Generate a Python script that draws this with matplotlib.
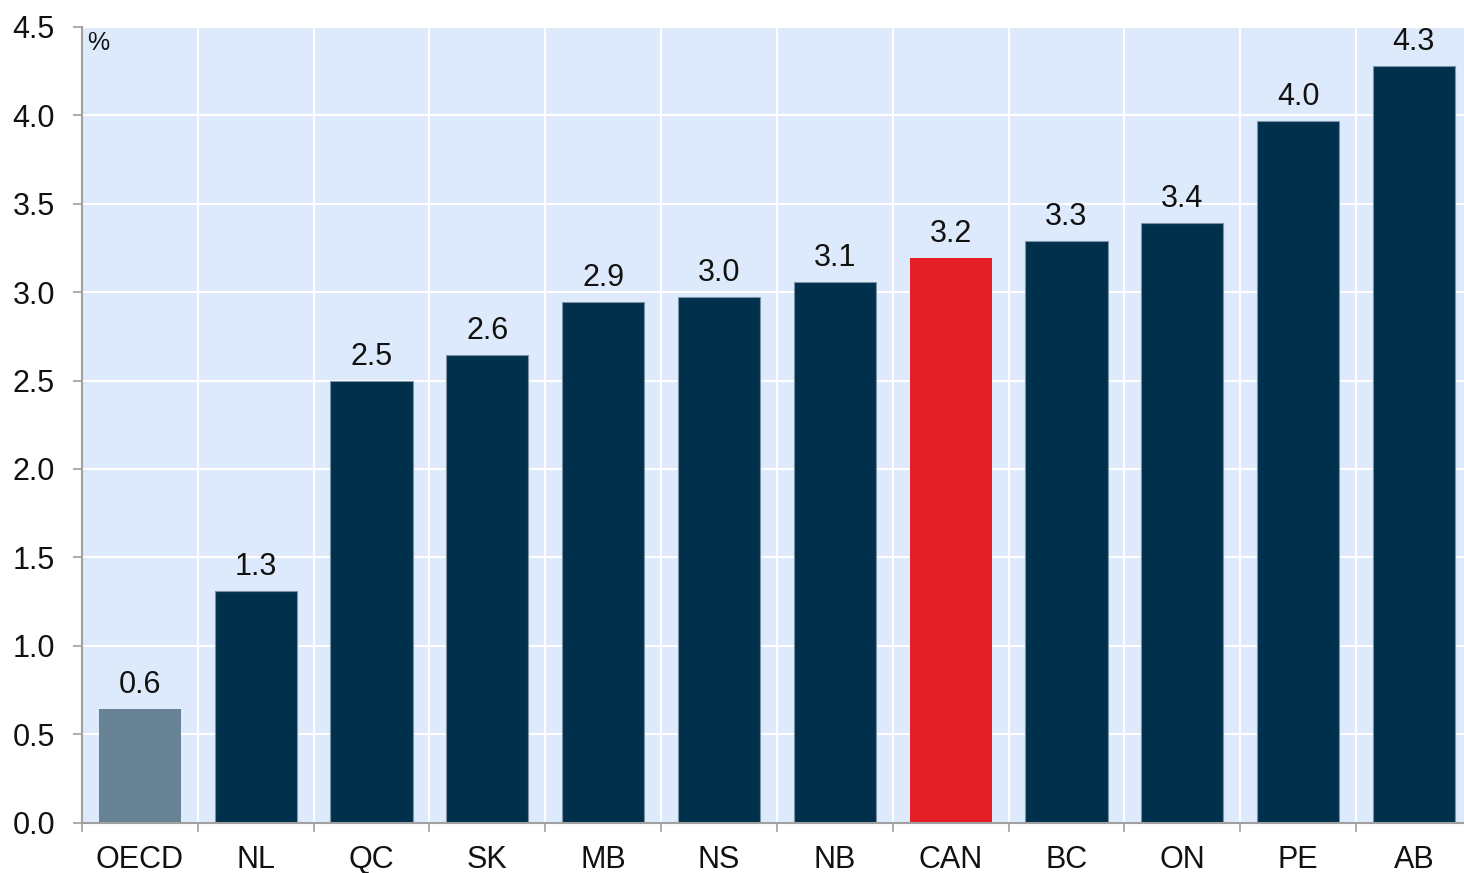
import matplotlib
matplotlib.use("Agg")
import matplotlib.pyplot as plt
import numpy as np

categories = ["OECD", "NL", "QC", "SK", "MB", "NS", "NB", "CAN", "BC", "ON", "PE", "AB"]
values = [0.642, 1.309, 2.497, 2.644, 2.944, 2.972, 3.057, 3.195, 3.289, 3.391, 3.968, 4.281]
yticks = [0.0, 0.5, 1.0, 1.5, 2.0, 2.5, 3.0, 3.5, 4.0, 4.5]

NAVY = "#00304C"
GREY = "#678395"
RED = "#E31E24"
BG = "#DDEAFB"
AXC = "#A0A0A0"

colors = [GREY] + [NAVY] * 6 + [RED] + [NAVY] * 4
edges = ["none"] + ["#7C93A8"] * 6 + ["none"] + ["#7C93A8"] * 4

plt.rcParams["font.family"] = ["Liberation Sans", "DejaVu Sans"]

fig = plt.figure(figsize=(14.64, 8.73), dpi=100)
ax = fig.add_axes([82 / 1464, (873 - 822.5) / 873, 1389.8 / 1464, (822.5 - 27) / 873])
ax.set_facecolor(BG)

x = np.arange(len(categories))
bars = ax.bar(x, values, width=0.71, color=colors, edgecolor=edges, linewidth=0.8, zorder=3)

FS = 22
for xi, v in zip(x, values):
    ax.annotate(f"{v:.1f}", xy=(xi, v), xytext=(0, 11.5), textcoords="offset points",
                ha="center", va="baseline", fontsize=FS, color="#111111", zorder=4)

ax.set_xlim(-0.5, len(categories) - 0.5)
ax.set_ylim(0, 4.5)
ax.set_yticks(yticks)
ax.set_yticklabels([f"{t:.1f}" for t in yticks])
ax.set_xticks(x)
ax.set_xticklabels(categories)
ax.set_xticks(np.arange(-0.5, len(categories), 1.0), minor=True)

ax.tick_params(axis="x", which="major", length=0, pad=16.5, labelsize=FS, labelcolor="#111111")
ax.tick_params(axis="x", which="minor", length=6.5, width=1.2, color=AXC, direction="out")
ax.tick_params(axis="y", which="major", length=6.5, width=1.2, color=AXC, pad=13,
               labelsize=FS, labelcolor="#111111")

ax.grid(True, axis="y", which="major", color="white", linewidth=1.5, zorder=1)
ax.grid(True, axis="x", which="minor", color="white", linewidth=1.5, zorder=1)
ax.grid(False, axis="x", which="major")
ax.set_axisbelow(True)

for s in ["top", "right"]:
    ax.spines[s].set_visible(False)
for s in ["left", "bottom"]:
    ax.spines[s].set_color(AXC)
    ax.spines[s].set_linewidth(1.5)
    ax.spines[s].set_zorder(5)

ax.text(0.004, 0.995, "%", transform=ax.transAxes, ha="left", va="top", fontsize=18, color="#111111")

fig.savefig("out.png", dpi=100)
